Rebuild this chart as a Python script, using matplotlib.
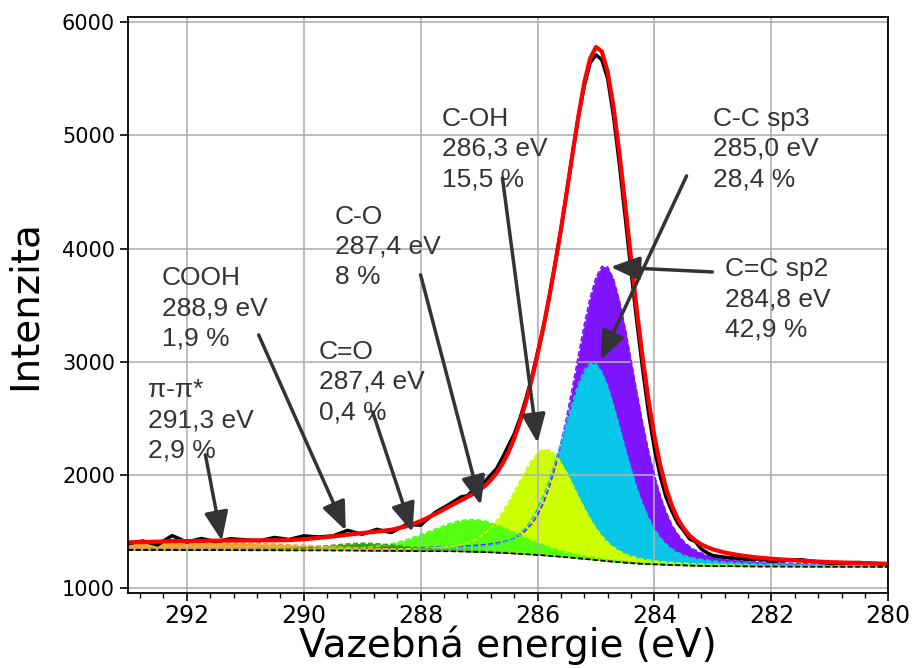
import numpy as np
import matplotlib
matplotlib.use("Agg")
import matplotlib.pyplot as plt
from matplotlib.ticker import AutoMinorLocator, MultipleLocator

# binding energy grid (eV): coarse on the high-BE tail, 0.1 eV across the main peak
energy = np.round(np.concatenate([
    np.arange(293.0, 287.49, -0.25),
    np.arange(287.4, 282.99, -0.1),
    np.arange(282.8, 281.99, -0.2),
    np.arange(281.5, 279.99, -0.5),
]), 2)

# Shirley background
background = [
    1338, 1338, 1338, 1338, 1337, 1337, 1337, 1337, 1336, 1336, 1336, 1335,
    1335, 1335, 1334, 1334, 1333, 1332, 1331, 1330, 1329, 1328, 1327,
    1326, 1325, 1324, 1322, 1321, 1319, 1317, 1315, 1313, 1310, 1307, 1304,
    1301, 1298, 1295, 1291, 1287, 1283, 1279, 1274, 1270, 1265, 1260, 1255,
    1250, 1245, 1240, 1235, 1231, 1227, 1223, 1219, 1216, 1214, 1212, 1210,
    1208, 1206, 1204, 1203, 1201, 1200, 1199, 1198, 1197,
    1196, 1195, 1194, 1193, 1193,
    1192, 1191, 1191, 1190,
]

# measured C 1s spectrum
measured = [
    1395, 1418, 1384, 1466, 1408, 1440, 1412, 1438, 1428, 1420, 1449, 1431,
    1463, 1454, 1462, 1512, 1477, 1521, 1492, 1562, 1558, 1670, 1745,
    1777, 1809, 1816, 1869, 1892, 1943, 2000, 2057, 2153, 2258, 2361, 2499,
    2672, 2859, 3082, 3304, 3570, 3868, 4166, 4498, 4841, 5161, 5435, 5638,
    5709, 5666, 5499, 5169, 4746, 4278, 3801, 3350, 2929, 2546, 2232, 1986,
    1803, 1679, 1573, 1510, 1436, 1412, 1348, 1314, 1289,
    1275, 1266, 1256, 1259, 1240,
    1253, 1220, 1228, 1211,
]

# fitted components, net intensity above the background
c_c_sp2 = [
    5, 5, 5, 6, 6, 6, 7, 7, 8, 9, 9, 10, 11, 13, 14, 15, 17, 20, 22, 26, 30, 35, 41,
    44, 48, 52, 56, 61, 67, 75, 84, 97, 113, 136, 167, 211, 271, 352,
    462, 606, 783, 994, 1240, 1509, 1790, 2067, 2310, 2495,
    2597, 2597, 2495, 2310, 2067, 1790, 1509, 1240, 994, 783,
    606, 462, 352, 271, 211, 167, 136, 113, 97, 84,
    67, 56, 48, 41, 36,
    26, 20, 16, 13,
]
c_c_sp3 = [
    3, 3, 4, 4, 4, 5, 5, 5, 6, 6, 7, 7, 8, 9, 10, 11, 13, 14, 17, 19, 22, 27, 32,
    34, 37, 41, 45, 50, 56, 64, 75, 90, 111, 141, 181, 235, 308, 404,
    522, 663, 827, 1006, 1194, 1378, 1540, 1663, 1731, 1731,
    1663, 1540, 1378, 1194, 1006, 827, 663, 522, 404, 308,
    235, 181, 141, 111, 90, 75, 64, 56, 50, 45,
    37, 32, 27, 24, 21,
    16, 12, 10, 8,
]
c_oh = [
    2, 2, 2, 3, 3, 3, 3, 4, 4, 5, 5, 6, 6, 7, 8, 9, 11, 13, 15, 18, 22, 28, 41,
    49, 60, 76, 98, 127, 166, 218, 282, 358, 447, 543, 645, 744, 832, 899,
    935, 935, 899, 832, 744, 645, 543, 447, 358, 282,
    218, 166, 127, 98, 76, 60, 49, 41, 35, 30,
    27, 24, 22, 20, 19, 17, 16, 15, 14, 13,
    11, 10, 9, 8, 7,
    6, 5, 4, 3,
]
c_o = [
    2, 2, 2, 3, 3, 3, 3, 4, 4, 5, 6, 6, 8, 9, 12, 17, 25, 39, 62, 97, 143, 195, 245,
    262, 274, 282, 285, 282, 274, 262, 245, 227, 206, 184, 163, 143, 123, 105,
    89, 75, 62, 51, 43, 36, 30, 25, 21, 18,
    15, 13, 12, 11, 10, 9, 8, 8, 7, 7,
    6, 6, 6, 5, 5, 5, 5, 4, 4, 4,
    4, 3, 3, 3, 3,
    3, 2, 2, 2,
]
c_dbl_o = [
    0, 0, 0, 0, 0, 0, 0, 0, 0, 0, 0, 0, 0, 1, 1, 1, 1, 2, 4, 7, 13, 19, 24,
    24, 24, 22, 20, 18, 15, 13, 10, 8, 6, 5, 4, 3, 2, 2,
    1, 1, 1, 1, 1, 0, 0, 0, 0, 0,
    0, 0, 0, 0, 0, 0, 0, 0, 0, 0,
    0, 0, 0, 0, 0, 0, 0, 0, 0, 0,
    0, 0, 0, 0, 0,
    0, 0, 0, 0,
]
cooh = [
    1, 1, 1, 1, 1, 1, 2, 2, 3, 5, 7, 13, 21, 33, 46, 58, 65, 62, 51, 38, 25, 16, 9,
    8, 6, 5, 4, 4, 3, 3, 3, 2, 2, 2, 2, 2, 2, 2,
    1, 1, 1, 1, 1, 1, 1, 1, 1, 1,
    0, 0, 0, 0, 0, 0, 0, 0, 0, 0,
    0, 0, 0, 0, 0, 0, 0, 0, 0, 0,
    0, 0, 0, 0, 0,
    0, 0, 0, 0,
]
pi_pi = [
    55, 58, 60, 62, 63, 64, 64, 63, 61, 58, 54, 49, 44, 38, 33, 28, 23, 19, 15, 12, 9, 7, 6,
    5, 5, 5, 4, 4, 4, 3, 3, 3, 3, 3, 3, 3, 3, 3,
    2, 2, 2, 2, 2, 2, 2, 2, 2, 2,
    2, 2, 2, 2, 2, 2, 2, 2, 2, 2,
    1, 1, 1, 1, 1, 1, 1, 1, 1, 1,
    1, 1, 1, 1, 1,
    1, 1, 1, 1,
]

# drawn bottom to top
components = [
    (c_c_sp2, "#7f14ff"),
    (c_c_sp3, "#08c6e8"),
    (c_oh, "#ccff00"),
    (c_o, "#55ff12"),
    (c_dbl_o, "#33cc88"),
    (cooh, "#3a9e16"),
    (pi_pi, "#f2a52a"),
]

labels = [
    ("π-π*\n291,3 eV\n2,9 %", (292.67, 2857), (291.68, 2178), (291.40, 1420)),
    ("COOH\n288,9 eV\n1,9 %", (292.43, 3846), (290.77, 3237), (289.28, 1510)),
    ("C=O\n287,4 eV\n0,4 %", (289.74, 3193), (288.82, 2557), (288.14, 1497)),
    ("C-O\n287,4 eV\n8 %", (289.47, 4386), (288.00, 3768), (286.97, 1736)),
    ("C-OH\n286,3 eV\n15,5 %", (287.64, 5250), (286.60, 4623), (286.00, 2284)),
    ("C-C sp3\n285,0 eV\n28,4 %", (282.99, 5250), (283.45, 4641), (284.92, 3016)),
    ("C=C sp2\n284,8 eV\n42,9 %", (282.79, 3925), (283.01, 3793), (284.75, 3837)),
]

bg = np.array(background, dtype=float)
envelope = bg.copy()

fig = plt.figure(figsize=(9.15, 6.68), dpi=100)
ax = fig.add_axes([0.1402, 0.1118, 0.8306, 0.8628])

for comp, color in components:
    top = bg + np.array(comp, dtype=float)
    envelope += np.array(comp, dtype=float)
    ax.fill_between(energy, bg, top, color=color, lw=0, zorder=1)
for comp, color in components:
    ax.plot(energy, bg + np.array(comp, dtype=float), ls=(0, (3, 1.5)),
            color=color, lw=1.2, zorder=2)

ax.plot(energy, bg, ls=(0, (3, 1.5)), color="black", lw=1.2, zorder=2)
ax.plot(energy, measured, color="black", lw=2.5, zorder=2.1)
ax.plot(energy, envelope, color="red", lw=3, zorder=2.2)

for text, pos, tail, tip in labels:
    ax.text(pos[0], pos[1], text, ha="left", va="top", fontsize=19,
            family="Liberation Sans", color="#333333", linespacing=1.32,
            zorder=3)
    ax.annotate("", xy=tip, xytext=tail, zorder=3,
                arrowprops=dict(arrowstyle="-|>,head_length=0.8,head_width=0.33",
                                mutation_scale=22, lw=2.5, color="#333333",
                                shrinkA=0, shrinkB=0))

ax.set_xlim(293, 280)
ax.set_ylim(956, 6044)
ax.xaxis.set_major_locator(MultipleLocator(2))
ax.xaxis.set_minor_locator(AutoMinorLocator(5))
ax.yaxis.set_major_locator(MultipleLocator(1000))
ax.grid(True, color="#b0b0b0", lw=1.2)
ax.tick_params(axis="both", which="major", length=6, width=1.2)
ax.tick_params(axis="x", which="major", labelsize=17, pad=1.5)
ax.tick_params(axis="y", which="major", labelsize=15)
ax.tick_params(axis="x", which="minor", length=3.5, width=1)
for sp in ax.spines.values():
    sp.set_linewidth(1.3)

ax.set_xlabel("Vazebná energie (eV)", fontsize=28, labelpad=-1.5)
ax.set_ylabel("Intenzita", fontsize=28, labelpad=13)

fig.savefig("out.png", dpi=100)
